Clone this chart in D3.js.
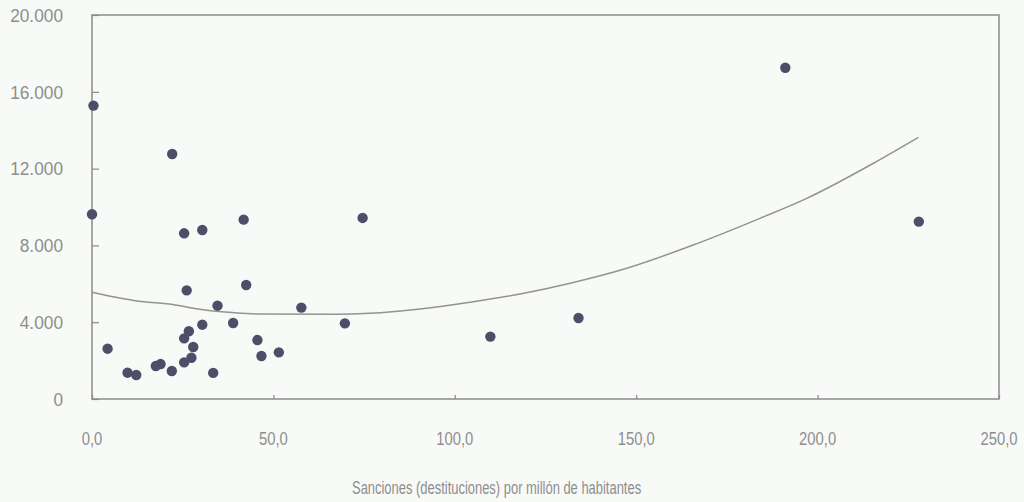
<!DOCTYPE html>
<html>
<head>
<meta charset="utf-8">
<script src="https://cdn.jsdelivr.net/npm/d3@7"></script>
<style>
  html, body { margin: 0; padding: 0; background: #f8faf7; }
  svg { display: block; }
  text { font-family: "Liberation Sans", Arial, sans-serif; fill: #8e8e8e; }
</style>
</head>
<body>
<svg id="chart" width="1024" height="502"></svg>
<script>
// Data
const sanciones = [0.4, 0, 22.1, 25.4, 30.4, 41.8, 74.6, 26.1, 42.5, 34.6, 57.7, 4.3, 9.8, 12.2, 17.6, 18.9, 22.0, 25.4, 27.4, 27.9, 25.4, 26.7, 30.4, 33.4, 38.9, 45.6, 46.7, 51.5, 69.7, 109.8, 134.1, 191.1, 227.9];
const valores   = [15280, 9620, 12760, 8630, 8800, 9340, 9430, 5660, 5940, 4860, 4760, 2620, 1370, 1250, 1720, 1820, 1460, 1910, 2150, 2710, 3160, 3530, 3870, 1360, 3960, 3070, 2240, 2430, 3940, 3250, 4220, 17250, 9240];

// Trend line
const trendX = [0, 11.9, 22.9, 29.3, 39.4, 45.8, 67.0, 76.6, 90.4, 104.2, 118.0, 131.8, 147.4, 165.7, 184.1, 197.0, 215.4, 227.8];
const trendY = [5560, 5120, 4900, 4690, 4490, 4430, 4410, 4460, 4690, 5040, 5470, 6030, 6810, 8020, 9410, 10450, 12280, 13630];

const xTicks = [0, 50, 100, 150, 200, 250];
const yTicks = [0, 4000, 8000, 12000, 16000, 20000];
const xTitle = "Sanciones (destituciones) por millón de habitantes";

const svg = d3.select("#chart");
const mLeft = 92, mRight = 999, mTop = 15, mBottom = 399;

const x = d3.scaleLinear().domain([0, 250]).range([mLeft, mRight]);
const y = d3.scaleLinear().domain([0, 20000]).range([mBottom, mTop]);

const fmtY = v => d3.format(",")(v).replace(/,/g, ".");
const fmtX = v => d3.format(".1f")(v).replace(".", ",");

const axisColor = "#8a8a8a";

// Frame
svg.append("rect")
  .attr("x", mLeft).attr("y", mTop)
  .attr("width", mRight - mLeft).attr("height", mBottom - mTop)
  .attr("fill", "none").attr("stroke", axisColor).attr("stroke-width", 1.5);

// Y axis
const yAxis = svg.append("g").attr("transform", `translate(${mLeft},0)`)
  .call(d3.axisRight(y).tickValues(yTicks).tickSize(7).tickFormat(""));
yAxis.select(".domain").remove();
yAxis.selectAll("line").attr("stroke", axisColor).attr("stroke-width", 1.2);

svg.append("g").selectAll("text").data(yTicks).join("text")
  .attr("transform", d => `translate(63,${y(d)}) scale(0.91,1)`)
  .attr("dy", "0.36em")
  .attr("text-anchor", "end")
  .attr("font-size", 19)
  .text(fmtY);

// X axis
const xAxis = svg.append("g").attr("transform", `translate(0,${mBottom})`)
  .call(d3.axisTop(x).tickValues(xTicks).tickSize(4).tickFormat(""));
xAxis.select(".domain").remove();
xAxis.selectAll("line").attr("stroke", axisColor).attr("stroke-width", 1.2);

svg.append("g").selectAll("text").data(xTicks).join("text")
  .attr("transform", d => `translate(${x(d)},445) scale(0.8,1)`)
  .attr("text-anchor", "middle")
  .attr("font-size", 18.5)
  .text(fmtX);

svg.append("text")
  .attr("transform", "translate(352,494) scale(0.7,1)")
  .attr("text-anchor", "start")
  .attr("font-size", 18.5)
  .text(xTitle);

// Trend line
const trend = trendX.map((d, i) => [d, trendY[i]]);
svg.append("path")
  .datum(trend)
  .attr("fill", "none")
  .attr("stroke", "#939390")
  .attr("stroke-width", 1.5)
  .attr("d", d3.line().x(d => x(d[0])).y(d => y(d[1])).curve(d3.curveMonotoneX));

// Points
const pts = sanciones.map((d, i) => [d, valores[i]]);
svg.append("g").selectAll("circle").data(pts).join("circle")
  .attr("cx", d => x(d[0])).attr("cy", d => y(d[1]))
  .attr("r", 5.2)
  .attr("fill", "#4b5068");
</script>
</body>
</html>
